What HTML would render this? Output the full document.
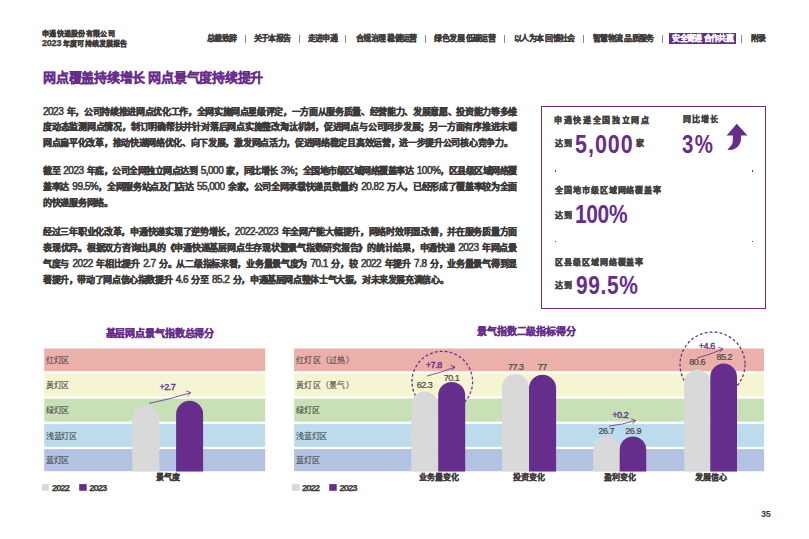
<!DOCTYPE html>
<html lang="zh-CN"><head><meta charset="utf-8">
<style>
html,body{margin:0;padding:0;background:#fff;}
body{width:809px;height:539px;position:relative;overflow:hidden;font-family:"Liberation Sans",sans-serif;color:#3e3a39;}
.a{position:absolute;white-space:nowrap;}
.sep{position:absolute;width:0.9px;background:#8a8a8a;}
.d{font-size:10px;letter-spacing:-0.5px;font-weight:normal;-webkit-text-stroke:0.55px #3e3a39;}
.dot{position:absolute;width:1.2px;height:1.2px;background:#662d8c;}
</style></head><body>
<div class="sep" style="left:245.25px;top:34.5px;height:8px"></div>
<div class="sep" style="left:299.05px;top:34.5px;height:8px"></div>
<div class="sep" style="left:345.25px;top:34.5px;height:8px"></div>
<div class="sep" style="left:424.85px;top:34.5px;height:8px"></div>
<div class="sep" style="left:504.35px;top:34.5px;height:8px"></div>
<div class="sep" style="left:582.9499999999999px;top:34.5px;height:8px"></div>
<div class="sep" style="left:661.9499999999999px;top:34.5px;height:8px"></div>
<div class="sep" style="left:740.8499999999999px;top:34.5px;height:8px"></div>
<div class="a" style="left:669px;top:33px;width:67px;height:10.8px;background:#662d8c;"></div>
<div class="a" style="left:541px;top:106px;width:223px;height:201.2px;border:1.6px solid #662d8c;"></div>
<div class="dot" style="left:554.7px;top:170.4px"></div>
<div class="dot" style="left:751.6px;top:170.4px"></div>
<div class="dot" style="left:554.7px;top:241.20000000000002px"></div>
<div class="dot" style="left:751.6px;top:241.20000000000002px"></div>
<svg class="a" style="left:0;top:0" width="809" height="539"><rect x="44.2" y="348.5" width="221" height="22.70" fill="#ebb0aa"/><rect x="294.1" y="348.5" width="470" height="22.70" fill="#ebb0aa"/><rect x="44.2" y="373.6" width="221" height="22.80" fill="#f6f5d1"/><rect x="294.1" y="373.6" width="470" height="22.80" fill="#f6f5d1"/><rect x="44.2" y="398.6" width="221" height="23.00" fill="#c8e0b5"/><rect x="294.1" y="398.6" width="470" height="23.00" fill="#c8e0b5"/><rect x="44.2" y="424.1" width="221" height="22.70" fill="#bcdcee"/><rect x="294.1" y="424.1" width="470" height="22.70" fill="#bcdcee"/><rect x="44.2" y="449.1" width="221" height="22.10" fill="#b3c2e2"/><rect x="294.1" y="449.1" width="470" height="22.10" fill="#b3c2e2"/><circle cx="442.3" cy="381.6" r="30.3" stroke="#662d8c" stroke-width="1.25" stroke-dasharray="2.8,2.2" fill="none"/><circle cx="712.5" cy="364.5" r="32.5" stroke="#662d8c" stroke-width="1.25" stroke-dasharray="2.8,2.2" fill="none"/><path d="M132.2,471.6 V419.20 A13.60,13.60 0 0 1 159.4,419.20 V471.6 Z" fill="#d9d9d9"/><path d="M176.1,471.6 V414.20 A13.50,13.50 0 0 1 203.1,414.20 V471.6 Z" fill="#662d8c"/><path d="M411.3,471.6 V405.05 A13.45,13.45 0 0 1 438.2,405.05 V471.6 Z" fill="#d9d9d9"/><path d="M438.2,471.6 V395.40 A13.50,13.50 0 0 1 465.2,395.40 V471.6 Z" fill="#662d8c"/><path d="M502,471.6 V387.50 A13.50,13.50 0 0 1 529,387.50 V471.6 Z" fill="#d9d9d9"/><path d="M529,471.6 V388.35 A13.55,13.55 0 0 1 556.1,388.35 V471.6 Z" fill="#662d8c"/><path d="M593,471.6 V449.75 A13.35,13.35 0 0 1 619.7,449.75 V471.6 Z" fill="#d9d9d9"/><path d="M619.7,471.6 V449.65 A13.25,13.25 0 0 1 646.2,449.65 V471.6 Z" fill="#662d8c"/><path d="M684.2,471.6 V382.75 A13.05,13.05 0 0 1 710.3,382.75 V471.6 Z" fill="#d9d9d9"/><path d="M710.3,471.6 V376.85 A13.35,13.35 0 0 1 737,376.85 V471.6 Z" fill="#662d8c"/><path d="M149,403.4 Q169.9,399.24999999999994 190.8,392.7" stroke="#662d8c" stroke-width="0.8" fill="none"/><path d="M186.3,390.9 L190.8,392.7 L187.5,395.9" stroke="#662d8c" stroke-width="0.8" fill="none"/><path d="M427,376 Q441.0,372.7 455,367" stroke="#662d8c" stroke-width="0.8" fill="none"/><path d="M450.5,365.2 L455,367 L451.7,370.2" stroke="#662d8c" stroke-width="0.8" fill="none"/><path d="M608.8,426.2 Q622.25,424.59999999999997 635.7,420.6" stroke="#662d8c" stroke-width="0.8" fill="none"/><path d="M631.2,418.8 L635.7,420.6 L632.4000000000001,423.8" stroke="#662d8c" stroke-width="0.8" fill="none"/><path d="M697,358 Q710.0,354.7 723,349" stroke="#662d8c" stroke-width="0.8" fill="none"/><path d="M718.5,347.2 L723,349 L719.7,352.2" stroke="#662d8c" stroke-width="0.8" fill="none"/><path d="M736.8,123.8 L747.4,135.4 L741.1,135.4 L740.9,140 C740.5,144.5 737.2,148.6 731.6,149.9 L727.4,149.7 C729.6,147.2 732,145.3 732.6,142.8 L733,135.4 L726.6,135.4 Z" fill="#662d8c"/><rect x="42.1" y="484.1" width="6.7" height="6.7" fill="#d9d9d9"/><rect x="79.2" y="484.1" width="7.5" height="6.7" fill="#662d8c"/><rect x="292.1" y="484.1" width="7.7" height="6.7" fill="#d9d9d9"/><rect x="329.2" y="484.1" width="7.5" height="6.7" fill="#662d8c"/></svg>
<div class="a " style="left:42px;top:29.7px;font-size:7px;line-height:7px;letter-spacing:0.3px;font-weight:bold;color:#3e3a39;-webkit-text-stroke:0.35px #3e3a39;">申通快递股份有限公司</div>
<div class="a " style="left:42px;top:39.9px;font-size:7px;line-height:7px;letter-spacing:0.1px;font-weight:bold;color:#3e3a39;-webkit-text-stroke:0.35px #3e3a39;"><span style="font-size:9px;letter-spacing:-0.2px">2023</span> 年度可持续发展报告</div>
<div class="a " style="left:206.89999999999998px;top:34.8px;font-size:8px;line-height:8px;letter-spacing:-0.6px;font-weight:bold;color:#3e3a39;-webkit-text-stroke:0.2px #3e3a39;">总裁致辞</div>
<div class="a " style="left:253.5px;top:34.8px;font-size:8px;line-height:8px;letter-spacing:-0.6px;font-weight:bold;color:#3e3a39;-webkit-text-stroke:0.2px #3e3a39;">关于本报告</div>
<div class="a " style="left:307.59999999999997px;top:34.8px;font-size:8px;line-height:8px;letter-spacing:-0.6px;font-weight:bold;color:#3e3a39;-webkit-text-stroke:0.2px #3e3a39;">走进申通</div>
<div class="a " style="left:356.0px;top:34.8px;font-size:8px;line-height:8px;letter-spacing:-0.6px;font-weight:bold;color:#3e3a39;-webkit-text-stroke:0.2px #3e3a39;">合规治理 稳健运营</div>
<div class="a " style="left:434.4px;top:34.8px;font-size:8px;line-height:8px;letter-spacing:-0.6px;font-weight:bold;color:#3e3a39;-webkit-text-stroke:0.2px #3e3a39;">绿色发展 低碳运营</div>
<div class="a " style="left:513.9000000000001px;top:34.8px;font-size:8px;line-height:8px;letter-spacing:-0.6px;font-weight:bold;color:#3e3a39;-webkit-text-stroke:0.2px #3e3a39;">以人为本 回馈社会</div>
<div class="a " style="left:593.0px;top:34.8px;font-size:8px;line-height:8px;letter-spacing:-0.6px;font-weight:bold;color:#3e3a39;-webkit-text-stroke:0.2px #3e3a39;">智慧物流 品质服务</div>
<div class="a " style="left:672.3px;top:34.8px;font-size:8px;line-height:8px;letter-spacing:-0.6px;font-weight:bold;color:#fff;-webkit-text-stroke:0.15px #fff;">安全寄递 合作共赢</div>
<div class="a " style="left:751px;top:34.8px;font-size:8px;line-height:8px;letter-spacing:-0.6px;font-weight:bold;color:#3e3a39;-webkit-text-stroke:0.2px #3e3a39;">附录</div>
<div class="a " style="left:43.3px;top:70.6px;font-size:13px;line-height:13px;letter-spacing:-0.27px;font-weight:bold;color:#662d8c;-webkit-text-stroke:0.25px #662d8c;">网点覆盖持续增长 网点景气度持续提升</div>
<div class="a pl0" style="left:43px;top:106.5px;font-size:9.0px;line-height:9.0px;letter-spacing:-0.3387px;font-weight:bold;color:#3e3a39;-webkit-text-stroke:0.35px #3e3a39;word-spacing:1.2px;"><span class="d">2023</span> 年，公司持续推进网点优化工作，全网实施网点星级评定，一方面从服务质量、经营能力、发展意愿、投资能力等多维</div>
<div class="a pl1" style="left:43px;top:122.6px;font-size:9.0px;line-height:9.0px;letter-spacing:-0.2224px;font-weight:bold;color:#3e3a39;-webkit-text-stroke:0.35px #3e3a39;word-spacing:1.2px;">度动态监测网点情况，制订明确帮扶并针对落后网点实施整改淘汰机制，促进网点与公司同步发展；另一方面有序推进末端</div>
<div class="a pl2" style="left:43px;top:138.7px;font-size:9.0px;line-height:9.0px;letter-spacing:-0.31px;font-weight:bold;color:#3e3a39;-webkit-text-stroke:0.35px #3e3a39;word-spacing:1.2px;">网点扁平化改革，推动快递网络优化、向下发展，激发网点活力，促进网络稳定且高效运营，进一步提升公司核心竞争力。</div>
<div class="a pl3" style="left:43px;top:166.2px;font-size:9.0px;line-height:9.0px;letter-spacing:-0.4809px;font-weight:bold;color:#3e3a39;-webkit-text-stroke:0.35px #3e3a39;word-spacing:1.2px;">截至 <span class="d">2023</span> 年底，公司全网独立网点达到 <span class="d">5,000</span> 家，同比增长 <span class="d">3%</span>；全国地市级区域网络覆盖率达 <span class="d">100%</span>，区县级区域网络覆</div>
<div class="a pl4" style="left:43px;top:182.2px;font-size:9.0px;line-height:9.0px;letter-spacing:-0.337px;font-weight:bold;color:#3e3a39;-webkit-text-stroke:0.35px #3e3a39;word-spacing:1.2px;">盖率达 <span class="d">99.5%</span>，全网服务站点及门店达 <span class="d">55,000</span> 余家，公司全网承载快递员数量约 <span class="d">20.82</span> 万人，已经形成了覆盖率较为全面</div>
<div class="a pl5" style="left:43px;top:198.5px;font-size:9.0px;line-height:9.0px;letter-spacing:-0.26px;font-weight:bold;color:#3e3a39;-webkit-text-stroke:0.35px #3e3a39;word-spacing:1.2px;">的快递服务网络。</div>
<div class="a pl6" style="left:43px;top:226.8px;font-size:9.0px;line-height:9.0px;letter-spacing:-0.2807px;font-weight:bold;color:#3e3a39;-webkit-text-stroke:0.35px #3e3a39;word-spacing:1.2px;">经过三年职业化改革，申通快递实现了逆势增长，<span class="d">2022-2023</span> 年全网产能大幅提升，网络时效明显改善，并在服务质量方面</div>
<div class="a pl7" style="left:43px;top:243.0px;font-size:9.0px;line-height:9.0px;letter-spacing:-0.2391px;font-weight:bold;color:#3e3a39;-webkit-text-stroke:0.35px #3e3a39;word-spacing:1.2px;">表现优异。根据双方咨询出具的《申通快递基层网点生存现状暨景气指数研究报告》的统计结果，申通快递 <span class="d">2023</span> 年网点景</div>
<div class="a pl8" style="left:43px;top:259.2px;font-size:9.0px;line-height:9.0px;letter-spacing:-0.2902px;font-weight:bold;color:#3e3a39;-webkit-text-stroke:0.35px #3e3a39;word-spacing:1.2px;">气度与 <span class="d">2022</span> 年相比提升 <span class="d">2.7</span> 分。从二级指标来看，业务量景气度为 <span class="d">70.1</span> 分，较 <span class="d">2022</span> 年提升 <span class="d">7.8</span> 分，业务量景气得到显</div>
<div class="a pl9" style="left:43px;top:275.2px;font-size:9.0px;line-height:9.0px;letter-spacing:-0.38px;font-weight:bold;color:#3e3a39;-webkit-text-stroke:0.35px #3e3a39;word-spacing:1.2px;">著提升，带动了网点信心指数提升 <span class="d">4.6</span> 分至 <span class="d">85.2</span> 分，申通基层网点整体士气大振，对未来发展充满信心。</div>
<div class="a " style="left:554.2px;top:116.6px;font-size:8px;line-height:8px;letter-spacing:1.62px;font-weight:bold;color:#3e3a39;-webkit-text-stroke:0.35px #454342;color:#454342;">申通快递全国独立网点</div>
<div class="a " style="left:683px;top:116.2px;font-size:8px;line-height:8px;letter-spacing:1.0px;font-weight:bold;color:#3e3a39;-webkit-text-stroke:0.35px #454342;color:#454342;">同比增长</div>
<div class="a " style="left:555.3px;top:187.2px;font-size:8px;line-height:8px;letter-spacing:0.9px;font-weight:bold;color:#3e3a39;-webkit-text-stroke:0.35px #454342;color:#454342;">全国地市级区域网络覆盖率</div>
<div class="a " style="left:555.3px;top:258.6px;font-size:8px;line-height:8px;letter-spacing:0.9px;font-weight:bold;color:#3e3a39;-webkit-text-stroke:0.35px #454342;color:#454342;">区县级区域网络覆盖率</div>
<div class="a " style="left:555.3px;top:140.2px;font-size:8px;line-height:8px;letter-spacing:0.5px;font-weight:bold;color:#3e3a39;-webkit-text-stroke:0.35px #454342;color:#454342;">达到</div>
<div class="a " style="left:555.3px;top:211.6px;font-size:8px;line-height:8px;letter-spacing:0.5px;font-weight:bold;color:#3e3a39;-webkit-text-stroke:0.35px #454342;color:#454342;">达到</div>
<div class="a " style="left:555.3px;top:282.4px;font-size:8px;line-height:8px;letter-spacing:0.5px;font-weight:bold;color:#3e3a39;-webkit-text-stroke:0.35px #454342;color:#454342;">达到</div>
<div class="a " style="left:636px;top:140.2px;font-size:8px;line-height:8px;letter-spacing:0px;font-weight:bold;color:#3e3a39;-webkit-text-stroke:0.35px #454342;color:#454342;">家</div>
<div class="a " style="left:575.3px;top:132.2px;font-size:25.5px;line-height:25.5px;letter-spacing:1.2px;font-weight:bold;color:#662d8c;transform-origin:0 0;transform:scaleX(0.84);">5,000</div>
<div class="a " style="left:681.9px;top:132.2px;font-size:25.5px;line-height:25.5px;letter-spacing:1.6px;font-weight:bold;color:#662d8c;transform-origin:0 0;transform:scaleX(0.8);">3%</div>
<div class="a " style="left:574.6px;top:202px;font-size:25.5px;line-height:25.5px;letter-spacing:-0.4px;font-weight:bold;color:#662d8c;transform-origin:0 0;transform:scaleX(0.82);">100%</div>
<div class="a " style="left:575.5px;top:273px;font-size:25.5px;line-height:25.5px;letter-spacing:0.8px;font-weight:bold;color:#662d8c;transform-origin:0 0;transform:scaleX(0.82);">99.5%</div>
<div class="a " style="left:105.6px;top:329px;font-size:10px;line-height:10px;letter-spacing:-0.13px;font-weight:bold;color:#662d8c;-webkit-text-stroke:0.3px #662d8c;">基层网点景气指数总得分</div>
<div class="a " style="left:477.3px;top:327px;font-size:10px;line-height:10px;letter-spacing:-0.18px;font-weight:bold;color:#662d8c;-webkit-text-stroke:0.3px #662d8c;">景气指数二级指标得分</div>
<div class="a " style="left:45.900000000000006px;top:357.15000000000003px;font-size:8px;line-height:8px;letter-spacing:-0.3px;font-weight:500;color:#4a4a4a;-webkit-text-stroke:0.12px #4a4a4a;">红灯区</div>
<div class="a " style="left:45.900000000000006px;top:382.3px;font-size:8px;line-height:8px;letter-spacing:-0.3px;font-weight:500;color:#4a4a4a;-webkit-text-stroke:0.12px #4a4a4a;">黄灯区</div>
<div class="a " style="left:45.900000000000006px;top:407.40000000000003px;font-size:8px;line-height:8px;letter-spacing:-0.3px;font-weight:500;color:#4a4a4a;-webkit-text-stroke:0.12px #4a4a4a;">绿灯区</div>
<div class="a " style="left:45.900000000000006px;top:432.75000000000006px;font-size:8px;line-height:8px;letter-spacing:-0.3px;font-weight:500;color:#4a4a4a;-webkit-text-stroke:0.12px #4a4a4a;">浅蓝灯区</div>
<div class="a " style="left:45.900000000000006px;top:457.45px;font-size:8px;line-height:8px;letter-spacing:-0.3px;font-weight:500;color:#4a4a4a;-webkit-text-stroke:0.12px #4a4a4a;">蓝灯区</div>
<div class="a " style="left:296.2px;top:357.15000000000003px;font-size:8px;line-height:8px;letter-spacing:0.25px;font-weight:500;color:#4a4a4a;-webkit-text-stroke:0.12px #4a4a4a;">红灯区（过热）</div>
<div class="a " style="left:296.2px;top:382.3px;font-size:8px;line-height:8px;letter-spacing:0.25px;font-weight:500;color:#4a4a4a;-webkit-text-stroke:0.12px #4a4a4a;">黄灯区（景气）</div>
<div class="a " style="left:296.2px;top:407.40000000000003px;font-size:8px;line-height:8px;letter-spacing:-0.3px;font-weight:500;color:#4a4a4a;-webkit-text-stroke:0.12px #4a4a4a;">绿灯区</div>
<div class="a " style="left:296.2px;top:432.75000000000006px;font-size:8px;line-height:8px;letter-spacing:-0.3px;font-weight:500;color:#4a4a4a;-webkit-text-stroke:0.12px #4a4a4a;">浅蓝灯区</div>
<div class="a " style="left:296.2px;top:457.45px;font-size:8px;line-height:8px;letter-spacing:-0.3px;font-weight:500;color:#4a4a4a;-webkit-text-stroke:0.12px #4a4a4a;">蓝灯区</div>
<div class="a " style="left:159.4px;top:383.2px;font-size:9px;line-height:9px;letter-spacing:-0.45px;font-weight:normal;color:#662d8c;-webkit-text-stroke:0.35px #662d8c;">+2.7</div>
<div class="a " style="left:425.8px;top:361.3px;font-size:9px;line-height:9px;letter-spacing:-0.45px;font-weight:normal;color:#662d8c;-webkit-text-stroke:0.35px #662d8c;">+7.8</div>
<div class="a " style="left:416.7px;top:381.4px;font-size:9px;line-height:9px;letter-spacing:-0.45px;font-weight:normal;color:#4a4a4a;-webkit-text-stroke:0.22px #4a4a4a;">62.3</div>
<div class="a " style="left:443.7px;top:373.7px;font-size:9px;line-height:9px;letter-spacing:-0.45px;font-weight:normal;color:#4a4a4a;-webkit-text-stroke:0.22px #4a4a4a;">70.1</div>
<div class="a " style="left:507.90000000000003px;top:363.0px;font-size:9px;line-height:9px;letter-spacing:-0.45px;font-weight:normal;color:#4a4a4a;-webkit-text-stroke:0.22px #4a4a4a;">77.3</div>
<div class="a " style="left:537.8px;top:363.0px;font-size:9px;line-height:9px;letter-spacing:-0.45px;font-weight:normal;color:#4a4a4a;-webkit-text-stroke:0.22px #4a4a4a;">77</div>
<div class="a " style="left:612.3px;top:410.59999999999997px;font-size:9px;line-height:9px;letter-spacing:-0.45px;font-weight:normal;color:#662d8c;-webkit-text-stroke:0.35px #662d8c;">+0.2</div>
<div class="a " style="left:598.4px;top:426.7px;font-size:9px;line-height:9px;letter-spacing:-0.45px;font-weight:normal;color:#4a4a4a;-webkit-text-stroke:0.22px #4a4a4a;">26.7</div>
<div class="a " style="left:625.3px;top:426.7px;font-size:9px;line-height:9px;letter-spacing:-0.45px;font-weight:normal;color:#4a4a4a;-webkit-text-stroke:0.22px #4a4a4a;">26.9</div>
<div class="a " style="left:698.8px;top:342.3px;font-size:9px;line-height:9px;letter-spacing:-0.45px;font-weight:normal;color:#662d8c;-webkit-text-stroke:0.35px #662d8c;">+4.6</div>
<div class="a " style="left:689.3px;top:358.09999999999997px;font-size:9px;line-height:9px;letter-spacing:-0.45px;font-weight:normal;color:#4a4a4a;-webkit-text-stroke:0.22px #4a4a4a;">80.6</div>
<div class="a " style="left:716.4px;top:352.7px;font-size:9px;line-height:9px;letter-spacing:-0.45px;font-weight:normal;color:#4a4a4a;-webkit-text-stroke:0.22px #4a4a4a;">85.2</div>
<div class="a " style="left:156px;top:473.8px;font-size:8px;line-height:8px;letter-spacing:-0.1px;font-weight:bold;color:#3e3a39;-webkit-text-stroke:0.2px #3e3a39;">景气度</div>
<div class="a " style="left:419.3px;top:474.2px;font-size:8px;line-height:8px;letter-spacing:-0.1px;font-weight:bold;color:#3e3a39;-webkit-text-stroke:0.2px #3e3a39;">业务量变化</div>
<div class="a " style="left:512.9px;top:474.2px;font-size:8px;line-height:8px;letter-spacing:-0.1px;font-weight:bold;color:#3e3a39;-webkit-text-stroke:0.2px #3e3a39;">投资变化</div>
<div class="a " style="left:604.1px;top:474.2px;font-size:8px;line-height:8px;letter-spacing:-0.1px;font-weight:bold;color:#3e3a39;-webkit-text-stroke:0.2px #3e3a39;">盈利变化</div>
<div class="a " style="left:695.2px;top:473.6px;font-size:8px;line-height:8px;letter-spacing:-0.1px;font-weight:bold;color:#3e3a39;-webkit-text-stroke:0.2px #3e3a39;">发展信心</div>
<div class="a " style="left:52px;top:482.8px;font-size:9.5px;line-height:9.5px;letter-spacing:-1.0px;font-weight:bold;color:#3e3a39;-webkit-text-stroke:0.25px #3e3a39;">2022</div>
<div class="a " style="left:302px;top:482.8px;font-size:9.5px;line-height:9.5px;letter-spacing:-1.0px;font-weight:bold;color:#3e3a39;-webkit-text-stroke:0.25px #3e3a39;">2022</div>
<div class="a " style="left:89.2px;top:482.8px;font-size:9.5px;line-height:9.5px;letter-spacing:-1.0px;font-weight:bold;color:#3e3a39;-webkit-text-stroke:0.25px #3e3a39;">2023</div>
<div class="a " style="left:339.4px;top:482.8px;font-size:9.5px;line-height:9.5px;letter-spacing:-1.0px;font-weight:bold;color:#3e3a39;-webkit-text-stroke:0.25px #3e3a39;">2023</div>
<div class="a " style="left:761px;top:510px;font-size:9px;line-height:9px;letter-spacing:-0.2px;font-weight:bold;color:#3e3a39;">35</div>
</body></html>
